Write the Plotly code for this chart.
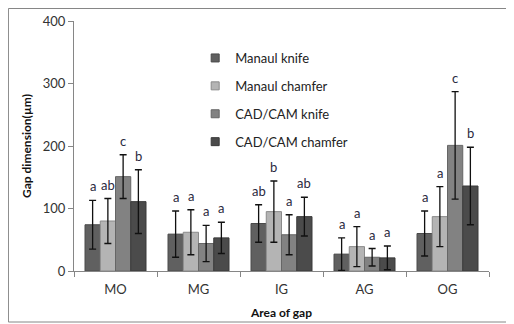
import plotly.graph_objects as go

categories = ["MO", "MG", "IG", "AG", "OG"]
series_names = ["Manaul knife", "Manaul chamfer", "CAD/CAM knife", "CAD/CAM chamfer"]

manual_knife = [74, 59, 76, 27, 60]
manual_knife_err = [39, 37, 30, 26, 36]
manual_knife_lbl = ["a", "a", "ab", "a", "a"]

manual_chamfer = [80, 62, 95, 39, 87]
manual_chamfer_err = [36, 36, 49, 32, 48]
manual_chamfer_lbl = ["ab", "a", "b", "a", "a"]

cad_knife = [151, 44, 58, 22, 201]
cad_knife_err = [35, 29, 32, 14, 86]
cad_knife_lbl = ["c", "a", "a", "a", "c"]

cad_chamfer = [111, 53, 87, 21, 136]
cad_chamfer_err = [51, 25, 31, 19, 62]
cad_chamfer_lbl = ["b", "a", "ab", "a", "b"]

y_ticks = [0, 100, 200, 300, 400]

values = [manual_knife, manual_chamfer, cad_knife, cad_chamfer]
errors = [manual_knife_err, manual_chamfer_err, cad_knife_err, cad_chamfer_err]
labels = [manual_knife_lbl, manual_chamfer_lbl, cad_knife_lbl, cad_chamfer_lbl]
colors = ["#606060", "#b4b4b4", "#828282", "#4b4b4b"]
edges = ["#4a4a4a", "#8a8a8a", "#666666", "#3a3a3a"]

FONT = "Lato"
bargap = 0.265

fig = go.Figure()
for i, name in enumerate(series_names):
    fig.add_trace(go.Bar(
        x=categories, y=values[i], name=name, showlegend=False,
        marker=dict(color=colors[i], line=dict(color=edges[i], width=1)),
        error_y=dict(type="data", array=errors[i], visible=True,
                     color="#111111", thickness=1.3, width=3.5),
    ))
# legend entries (small square keys like the original)
for i, name in enumerate(series_names):
    fig.add_trace(go.Scatter(
        x=[None], y=[None], mode="markers", name=name, legendgroup=str(i),
        marker=dict(symbol="square", size=8, color=colors[i],
                    line=dict(color=edges[i], width=1)),
    ))

annotations = []
n = len(series_names)
for i in range(n):
    for j, cat in enumerate(categories):
        xpos = j + (i - (n - 1) / 2) * (1 - bargap) / n
        annotations.append(dict(
            x=xpos, y=values[i][j] + errors[i][j], xref="x", yref="y",
            text=labels[i][j], showarrow=False, yanchor="middle", yshift=14,
            font=dict(family=FONT, size=13, color="#2a2a40"),
        ))

fig.update_layout(
    width=506, height=316,
    margin=dict(l=66, r=25, t=13, b=53, autoexpand=False),
    paper_bgcolor="white", plot_bgcolor="white",
    barmode="group", bargap=bargap, bargroupgap=0,
    font=dict(family=FONT, size=13, color="#333333"),
    showlegend=True,
    legend=dict(x=0.292, y=0.912, xanchor="left", yanchor="top",
                bgcolor="rgba(0,0,0,0)", tracegroupgap=8,
                font=dict(family=FONT, size=13, color="#222222"),
                itemwidth=30),
    annotations=annotations,
    shapes=[dict(type="rect", xref="paper", yref="paper",
                 x0=-0.158, x1=1.1, y0=-0.204, y1=1.05,
                 line=dict(color="#868686", width=1), layer="below")],
)
fig.update_xaxes(
    type="category", showline=True, linecolor="#868686", linewidth=1,
    ticks="outside", tickson="boundaries", ticklen=5, tickcolor="#868686",
    showgrid=False, ticklabelstandoff=6, automargin=False,
    tickfont=dict(family=FONT, size=13, color="#333333"),
    title=dict(text="<b>Area of gap</b>", font=dict(family=FONT, size=12, color="#111111"), standoff=13),
)
fig.update_yaxes(
    range=[0, 400], tickvals=y_ticks, showline=True, linecolor="#868686", linewidth=1,
    ticks="outside", ticklen=5, tickcolor="#868686", showgrid=False, zeroline=False,
    automargin=False,
    tickfont=dict(family=FONT, size=13, color="#333333"),
    title=dict(text="<b>Gap dimension(µm)</b>", font=dict(family=FONT, size=12, color="#111111"), standoff=8),
)

fig.write_html("out.html")
